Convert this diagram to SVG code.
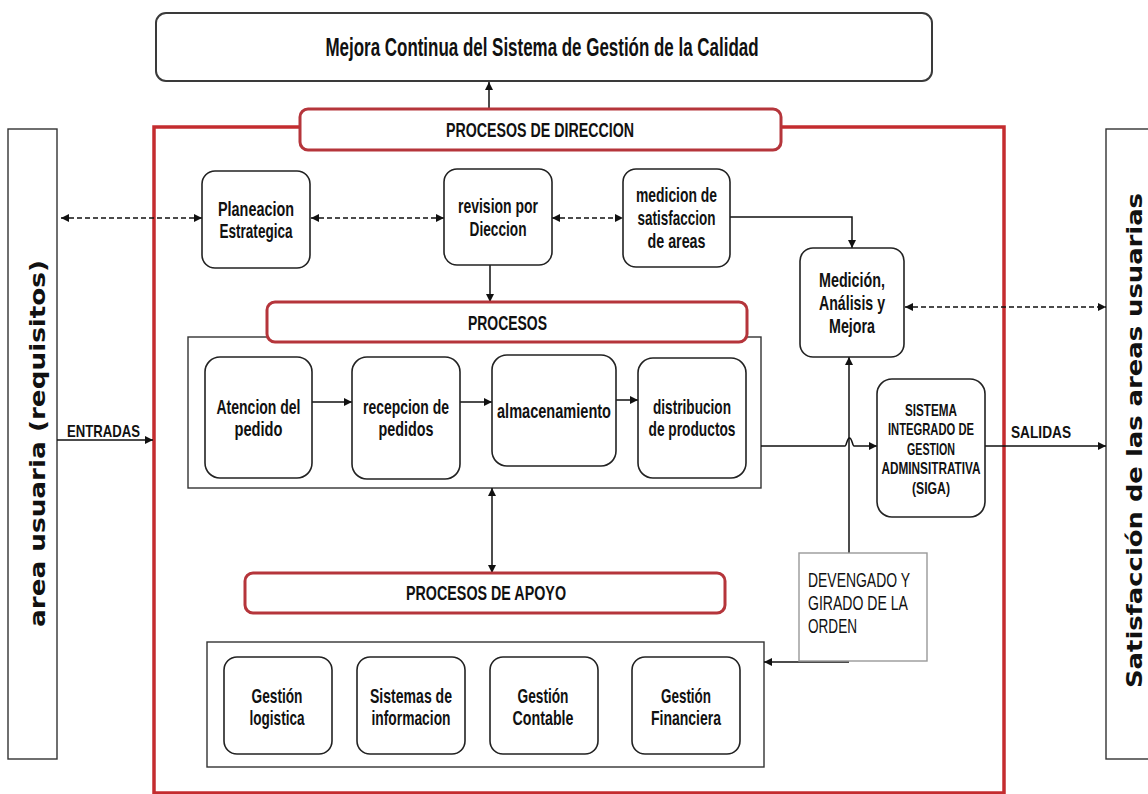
<svg xmlns="http://www.w3.org/2000/svg" width="1148" height="794" viewBox="0 0 1148 794">
  <style>
    .box { fill: #fff; stroke: #222; stroke-width: 1.6; }
    .frame { fill: #fff; stroke: #333; stroke-width: 1.4; }
    .hdr { fill: #fff; stroke: #b5353b; stroke-width: 3; }
    .t { font-family: "Liberation Sans", Arial, sans-serif; font-weight: bold; font-size: 20.5px; fill: #111; text-anchor: middle; }
    .s { font-size: 16.5px; }
    .io { font-size: 17px; }
    .hd { font-size: 21px; }
    .ttl { font-size: 25px; }
    .plain { font-family: "Liberation Sans", Arial, sans-serif; font-size: 20px; fill: #111; }
    .side { font-family: "DejaVu Sans", Verdana, sans-serif; font-weight: bold; font-size: 22px; fill: #111; text-anchor: middle; }
    .ln { stroke: #111; stroke-width: 1.5; fill: none; }
    .dash { stroke-dasharray: 5 3; }
  </style>
  <defs>
    <marker id="ah" viewBox="0 0 10 10" refX="10" refY="5" markerWidth="9" markerHeight="8" markerUnits="userSpaceOnUse" orient="auto-start-reverse">
      <path d="M0,0L10,5L0,10z" fill="#111"/>
    </marker>
  </defs>

  <rect width="1148" height="794" fill="#fff"/>

  <!-- outer frame of the management system -->
  <rect x="154" y="127" width="850" height="666" fill="none" stroke="#c42c2f" stroke-width="3.5"/>

  <!-- top goal -->
  <g id="mejora-continua">
    <rect x="156" y="13" width="776" height="68" rx="10" fill="#fff" stroke="#3a3a3a" stroke-width="2"/>
    <text class="t ttl" x="542" y="56" textLength="433" lengthAdjust="spacingAndGlyphs">Mejora Continua del Sistema de Gestión de la Calidad</text>
  </g>

  <!-- side panels -->
  <g id="area-usuaria">
    <rect class="frame" x="8" y="129" width="49" height="630"/>
    <text class="side" transform="translate(45,443.5) rotate(-90)" textLength="367" lengthAdjust="spacingAndGlyphs">area usuaria (requisitos)</text>
  </g>
  <g id="satisfaccion">
    <rect class="frame" x="1106" y="129" width="50" height="630"/>
    <text class="side" transform="translate(1142,440.5) rotate(-90)" textLength="495" lengthAdjust="spacingAndGlyphs">Satisfacción de las areas usuarias</text>
  </g>

  <!-- containers -->
  <g id="procesos-contenedor">
    <rect class="frame" x="188" y="337" width="573" height="151"/>
  </g>
  <g id="apoyo-contenedor">
    <rect class="frame" x="207" y="642" width="557" height="125"/>
  </g>

  <!-- connectors -->
  <g id="connectors">
    <path class="ln" d="M489,109V82" marker-end="url(#ah)"/>
    <path class="ln dash" d="M61,218H202" marker-start="url(#ah)" marker-end="url(#ah)"/>
    <path class="ln dash" d="M311,218H444" marker-start="url(#ah)" marker-end="url(#ah)"/>
    <path class="ln dash" d="M552,218H623" marker-start="url(#ah)" marker-end="url(#ah)"/>
    <path class="ln" d="M730,217H852V248" marker-end="url(#ah)"/>
    <path class="ln" d="M490,265V302" marker-end="url(#ah)"/>
    <path class="ln" d="M312,402H352" marker-end="url(#ah)"/>
    <path class="ln" d="M460,402H492" marker-end="url(#ah)"/>
    <path class="ln" d="M616,400H638" marker-end="url(#ah)"/>
    <path class="ln" d="M761,446H845C846.5,446 847,438 849.5,438C852,438 852.5,446 854,446H877" marker-end="url(#ah)"/>
    <path class="ln" d="M849,553V357" marker-end="url(#ah)"/>
    <path class="ln" d="M849,662H764" marker-end="url(#ah)"/>
    <path class="ln" d="M492,488V573" marker-start="url(#ah)" marker-end="url(#ah)"/>
    <path class="ln" d="M57,440H153" marker-end="url(#ah)"/>
    <path class="ln" d="M985,446H1106" marker-end="url(#ah)"/>
    <path class="ln dash" d="M905,307H1106" marker-start="url(#ah)" marker-end="url(#ah)"/>
  </g>
  <text class="t io" x="103.5" y="437" textLength="73" lengthAdjust="spacingAndGlyphs">ENTRADAS</text>
  <text class="t io" x="1041" y="438" textLength="60" lengthAdjust="spacingAndGlyphs">SALIDAS</text>

  <!-- section headers -->
  <g id="procesos-direccion">
    <rect class="hdr" x="300" y="109" width="481" height="41" rx="8"/>
    <text class="t hd" x="540" y="137" textLength="188" lengthAdjust="spacingAndGlyphs">PROCESOS DE DIRECCION</text>
  </g>
  <g id="procesos">
    <rect class="hdr" x="267" y="302" width="480" height="40" rx="8"/>
    <text class="t hd" x="507.5" y="329.5" textLength="79" lengthAdjust="spacingAndGlyphs">PROCESOS</text>
  </g>
  <g id="procesos-apoyo">
    <rect class="hdr" x="245" y="573" width="480" height="40" rx="8"/>
    <text class="t hd" x="486" y="600" textLength="160" lengthAdjust="spacingAndGlyphs">PROCESOS DE APOYO</text>
  </g>

  <!-- direction processes -->
  <g id="planeacion">
    <rect class="box" x="202" y="171" width="108" height="97" rx="13"/>
    <text class="t" x="256" y="216" textLength="76" lengthAdjust="spacingAndGlyphs">Planeacion</text>
    <text class="t" x="256" y="238" textLength="73" lengthAdjust="spacingAndGlyphs">Estrategica</text>
  </g>
  <g id="revision">
    <rect class="box" x="444" y="169" width="108" height="96" rx="13"/>
    <text class="t" x="498" y="213" textLength="80" lengthAdjust="spacingAndGlyphs">revision por</text>
    <text class="t" x="498" y="236" textLength="57" lengthAdjust="spacingAndGlyphs">Dieccion</text>
  </g>
  <g id="medicion-satisfaccion">
    <rect class="box" x="623" y="169" width="107" height="98" rx="13"/>
    <text class="t" x="676.5" y="202" textLength="81" lengthAdjust="spacingAndGlyphs">medicion de</text>
    <text class="t" x="676.5" y="225" textLength="78" lengthAdjust="spacingAndGlyphs">satisfaccion</text>
    <text class="t" x="676.5" y="248" textLength="58" lengthAdjust="spacingAndGlyphs">de areas</text>
  </g>
  <g id="medicion-analisis">
    <rect class="box" x="800" y="248" width="104" height="109" rx="13"/>
    <text class="t" x="852" y="287" textLength="66" lengthAdjust="spacingAndGlyphs">Medición,</text>
    <text class="t" x="852" y="310" textLength="66" lengthAdjust="spacingAndGlyphs">Análisis y</text>
    <text class="t" x="852" y="333" textLength="46" lengthAdjust="spacingAndGlyphs">Mejora</text>
  </g>

  <!-- core processes -->
  <g id="atencion">
    <rect class="box" x="205" y="357" width="107" height="121" rx="15"/>
    <text class="t" x="258.5" y="414" textLength="84" lengthAdjust="spacingAndGlyphs">Atencion del</text>
    <text class="t" x="258.5" y="436" textLength="48" lengthAdjust="spacingAndGlyphs">pedido</text>
  </g>
  <g id="recepcion">
    <rect class="box" x="352" y="357" width="108" height="122" rx="15"/>
    <text class="t" x="406" y="414" textLength="86" lengthAdjust="spacingAndGlyphs">recepcion de</text>
    <text class="t" x="406" y="436" textLength="55" lengthAdjust="spacingAndGlyphs">pedidos</text>
  </g>
  <g id="almacenamiento">
    <rect class="box" x="492" y="355" width="124" height="111" rx="15"/>
    <text class="t" x="554" y="418" textLength="114" lengthAdjust="spacingAndGlyphs">almacenamiento</text>
  </g>
  <g id="distribucion">
    <rect class="box" x="638" y="358" width="108" height="120" rx="15"/>
    <text class="t" x="692" y="414" textLength="78" lengthAdjust="spacingAndGlyphs">distribucion</text>
    <text class="t" x="692" y="436" textLength="87" lengthAdjust="spacingAndGlyphs">de productos</text>
  </g>
  <g id="siga">
    <rect class="box" x="877" y="379" width="108" height="138" rx="15"/>
    <text class="t s" x="931" y="416" textLength="52" lengthAdjust="spacingAndGlyphs">SISTEMA</text>
    <text class="t s" x="931" y="435" textLength="86" lengthAdjust="spacingAndGlyphs">INTEGRADO DE</text>
    <text class="t s" x="931" y="455" textLength="48" lengthAdjust="spacingAndGlyphs">GESTION</text>
    <text class="t s" x="931" y="474" textLength="99" lengthAdjust="spacingAndGlyphs">ADMINSITRATIVA</text>
    <text class="t s" x="931" y="494" textLength="38" lengthAdjust="spacingAndGlyphs">(SIGA)</text>
  </g>

  <!-- accrual note -->
  <g id="devengado">
    <rect x="799" y="553" width="128" height="108" fill="#fff" stroke="#999" stroke-width="1.4"/>
    <text class="plain" x="808" y="587" textLength="102" lengthAdjust="spacingAndGlyphs">DEVENGADO Y</text>
    <text class="plain" x="808" y="610" textLength="100" lengthAdjust="spacingAndGlyphs">GIRADO DE LA</text>
    <text class="plain" x="808" y="633" textLength="49" lengthAdjust="spacingAndGlyphs">ORDEN</text>
  </g>

  <!-- support processes -->
  <g id="gestion-logistica">
    <rect class="box" x="224" y="657" width="108" height="97" rx="13"/>
    <text class="t" x="277" y="703" textLength="51" lengthAdjust="spacingAndGlyphs">Gestión</text>
    <text class="t" x="277" y="725" textLength="55" lengthAdjust="spacingAndGlyphs">logistica</text>
  </g>
  <g id="sistemas-informacion">
    <rect class="box" x="357" y="657" width="108" height="97" rx="13"/>
    <text class="t" x="411" y="703" textLength="82" lengthAdjust="spacingAndGlyphs">Sistemas de</text>
    <text class="t" x="411" y="725" textLength="79" lengthAdjust="spacingAndGlyphs">informacion</text>
  </g>
  <g id="gestion-contable">
    <rect class="box" x="490" y="657" width="108" height="97" rx="13"/>
    <text class="t" x="543" y="703" textLength="51" lengthAdjust="spacingAndGlyphs">Gestión</text>
    <text class="t" x="543" y="725" textLength="61" lengthAdjust="spacingAndGlyphs">Contable</text>
  </g>
  <g id="gestion-financiera">
    <rect class="box" x="632" y="657" width="108" height="97" rx="13"/>
    <text class="t" x="686" y="703" textLength="50" lengthAdjust="spacingAndGlyphs">Gestión</text>
    <text class="t" x="686" y="725" textLength="70" lengthAdjust="spacingAndGlyphs">Financiera</text>
  </g>
</svg>
